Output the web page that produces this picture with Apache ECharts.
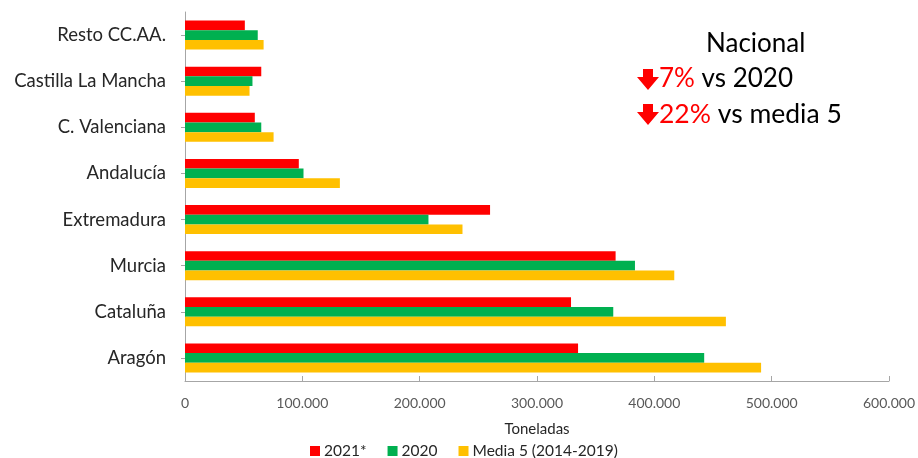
<!DOCTYPE html>
<html>
<head>
<meta charset="utf-8">
<script src="https://cdn.jsdelivr.net/npm/echarts@6/dist/echarts.min.js"></script>
<style>
html,body{margin:0;padding:0;background:#fff;}
#chart{width:918px;height:458px;}
</style>
</head>
<body>
<div id="chart"></div>
<script>
// Categories listed bottom to top (as on the value axis order)
var categories = ['Aragón', 'Cataluña', 'Murcia', 'Extremadura', 'Andalucía', 'C. Valenciana', 'Castilla La Mancha', 'Resto CC.AA.'];
var serie2021 = [335000, 329000, 367000, 260000, 97000, 59500, 65000, 51000];
var serie2020 = [442500, 365000, 383500, 207500, 101000, 65000, 57500, 62000];
var serieMedia5 = [491000, 461000, 417000, 236500, 132000, 75500, 55000, 67000];
var seriesNames = ['2021*', '2020', 'Media 5 (2014-2019)'];
var xTicks = {min: 0, max: 600000, interval: 100000};

var FONT = 'Lato';
function fmt(v) {
  return String(v).replace(/\B(?=(\d{3})+(?!\d))/g, '.');
}

var chart = echarts.init(document.getElementById('chart'));
var option = {
  animation: false,
  textStyle: {fontFamily: FONT},
  grid: {left: 185, right: 27, top: 12, bottom: 77, containLabel: false},
  legend: {
    data: seriesNames,
    left: 305, top: 438,
    itemWidth: 10, itemHeight: 10, itemGap: 21,
    icon: 'rect',
    textStyle: {fontFamily: FONT, fontSize: 15.5, color: '#262626', padding: [0, 0, 0, -1]}
  },
  xAxis: {
    type: 'value',
    min: xTicks.min, max: xTicks.max, interval: xTicks.interval,
    name: 'Toneladas',
    nameLocation: 'middle',
    nameGap: 41,
    nameTextStyle: {fontFamily: FONT, fontSize: 15, color: '#262626'},
    axisLine: {show: true, lineStyle: {color: '#a6a6a6', width: 1}},
    axisTick: {show: true, inside: true, length: 5, lineStyle: {color: '#a6a6a6'}},
    splitLine: {show: false},
    axisLabel: {fontFamily: FONT, fontSize: 14, color: '#595959', margin: 15, formatter: fmt}
  },
  yAxis: {
    type: 'category',
    data: categories,
    axisLine: {show: true, lineStyle: {color: '#a6a6a6', width: 1}},
    axisTick: {show: true, alignWithLabel: true, length: 4, lineStyle: {color: '#a6a6a6'}},
    axisLabel: {fontFamily: FONT, fontSize: 18.5, color: '#262626', margin: 19}
  },
  series: [
    {name: seriesNames[0], type: 'bar', data: serie2021, itemStyle: {color: '#FF0000'}, barGap: '0%', barCategoryGap: '37%'},
    {name: seriesNames[1], type: 'bar', data: serie2020, itemStyle: {color: '#00B050'}, barGap: '0%', barCategoryGap: '37%'},
    {name: seriesNames[2], type: 'bar', data: serieMedia5, itemStyle: {color: '#FFC000'}, barGap: '0%', barCategoryGap: '37%'}
  ],
  graphic: [
    {type: 'text', left: 706, top: 31, style: {text: 'Nacional', font: '26px Lato', fill: '#000'}},
    {type: 'polygon', shape: {points: [[643, 69], [653, 69], [653, 77], [659, 77], [648, 90], [637, 77], [643, 77]]}, style: {fill: '#FF0000'}},
    {type: 'polygon', shape: {points: [[643, 104], [653, 104], [653, 112], [659, 112], [648, 125], [637, 112], [643, 112]]}, style: {fill: '#FF0000'}},
    {type: 'text', left: 659, top: 66, style: {
      text: '{r|7%} vs 2020',
      font: '26px Lato', fill: '#000',
      rich: {r: {fill: '#FF0000', font: '26px Lato'}}
    }},
    {type: 'text', left: 659, top: 101, style: {
      text: '{r|22%} vs media 5',
      font: '26.5px Lato', fill: '#000',
      rich: {r: {fill: '#FF0000', font: '26.5px Lato'}}
    }}
  ]
};
chart.setOption(option);
</script>
</body>
</html>
